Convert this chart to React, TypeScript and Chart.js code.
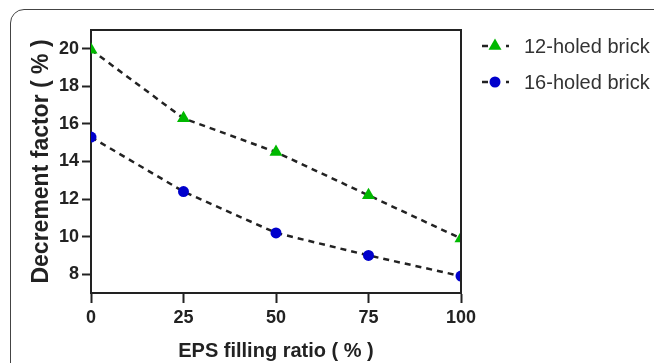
import React, { useEffect, useRef } from "react";
import { Chart, registerables } from "chart.js";

Chart.register(...registerables);

const fillingRatio = [0, 25, 50, 75, 100];
const holed12 = [19.95, 16.3, 14.5, 12.2, 9.9];
const holed16 = [15.3, 12.4, 10.2, 9.0, 7.9];
const xTicks = [0, 25, 50, 75, 100];
const yTicks = [8, 10, 12, 14, 16, 18, 20];
const seriesNames = ["12-holed brick", "16-holed brick"];

const FONT = "'Liberation Sans', Arial, sans-serif";
const AXIS = "#222";

const legendPlugin = {
  id: "customLegend",
  afterDraw(chart: any) {
    const ctx = chart.ctx;
    const area = chart.chartArea;
    ctx.save();
    // box top and right edges
    ctx.strokeStyle = AXIS;
    ctx.lineWidth = 2;
    ctx.beginPath();
    ctx.moveTo(area.left, area.top);
    ctx.lineTo(area.right, area.top);
    ctx.lineTo(area.right, area.bottom);
    ctx.stroke();

    chart.data.datasets.forEach((ds: any, i: number) => {
      const y = 46 + i * 36;
      const x0 = area.right + 21;
      ctx.strokeStyle = "#222";
      ctx.lineWidth = 2.5;
      ctx.beginPath();
      ctx.moveTo(x0, y);
      ctx.lineTo(x0 + 6, y);
      ctx.moveTo(x0 + 24, y);
      ctx.lineTo(x0 + 27, y);
      ctx.stroke();
      ctx.fillStyle = ds.pointBackgroundColor;
      const cx = x0 + 13;
      if (ds.pointStyle === "triangle") {
        const r = 7.5;
        ctx.beginPath();
        ctx.moveTo(cx, y - r);
        ctx.lineTo(cx + r * 0.866, y + r / 2);
        ctx.lineTo(cx - r * 0.866, y + r / 2);
        ctx.closePath();
        ctx.fill();
      } else {
        ctx.beginPath();
        ctx.arc(cx, y, 5.5, 0, Math.PI * 2);
        ctx.fill();
      }
      ctx.fillStyle = "#333";
      ctx.font = `20px ${FONT}`;
      ctx.textBaseline = "middle";
      ctx.textAlign = "left";
      ctx.fillText(ds.label, x0 + 42, y + 1);
    });
    ctx.restore();
  },
};

export default function App() {
  const ref = useRef<HTMLCanvasElement>(null);
  useEffect(() => {
    if (!ref.current) return;
    const chart = new Chart(ref.current, {
      type: "line",
      data: {
        labels: fillingRatio,
        datasets: [
          {
            label: seriesNames[0],
            data: fillingRatio.map((x, i) => ({ x, y: holed12[i] })),
            borderColor: "#222",
            borderWidth: 2.5,
            borderDash: [6, 5],
            pointStyle: "triangle",
            pointRadius: 7.5,
            pointBackgroundColor: "#00b800",
            pointBorderColor: "#00b800",
            pointBorderWidth: 0,
            fill: false,
            tension: 0,
          },
          {
            label: seriesNames[1],
            data: fillingRatio.map((x, i) => ({ x, y: holed16[i] })),
            borderColor: "#222",
            borderWidth: 2.5,
            borderDash: [6, 5],
            pointStyle: "circle",
            pointRadius: 5.5,
            pointBackgroundColor: "#0000cc",
            pointBorderColor: "#0000cc",
            pointBorderWidth: 0,
            fill: false,
            tension: 0,
          },
        ],
      },
      options: {
        animation: false,
        responsive: false,
        maintainAspectRatio: false,
        layout: { padding: { left: 28, top: 30, right: 193, bottom: 0 } },
        plugins: { legend: { display: false }, tooltip: { enabled: false } },
        scales: {
          x: {
            type: "linear",
            min: 0,
            max: 100,
            afterBuildTicks: (s: any) => {
              s.ticks = xTicks.map((v) => ({ value: v }));
            },
            afterFit: (s: any) => {
              s.height = 70;
            },
            grid: {
              drawOnChartArea: false,
              drawTicks: true,
              tickLength: 10,
              tickWidth: 2,
              color: AXIS,
            },
            border: { display: true, color: AXIS, width: 2 },
            ticks: {
              color: AXIS,
              font: { family: FONT, size: 18, weight: "bold" },
              padding: 4,
              maxRotation: 0,
            },
            title: {
              display: true,
              text: "EPS filling ratio ( % )",
              color: AXIS,
              font: { family: FONT, size: 20, weight: "bold" },
              padding: { top: 0, bottom: 0 },
            },
          },
          y: {
            type: "linear",
            min: 7,
            max: 21,
            afterBuildTicks: (s: any) => {
              s.ticks = yTicks.map((v) => ({ value: v }));
            },
            afterFit: (s: any) => {
              s.width = 63;
            },
            grid: {
              drawOnChartArea: false,
              drawTicks: true,
              tickLength: 9,
              tickWidth: 2,
              color: AXIS,
            },
            border: { display: true, color: AXIS, width: 2 },
            ticks: {
              color: AXIS,
              font: { family: FONT, size: 18, weight: "bold" },
              padding: 3,
            },
            title: {
              display: true,
              text: "Decrement factor ( % )",
              color: AXIS,
              font: { family: FONT, size: 23, weight: "bold" },
              padding: { top: 0, bottom: 0 },
            },
          },
        },
      },
      plugins: [legendPlugin],
    });
    return () => chart.destroy();
  }, []);

  return (
    <div
      style={{
        position: "fixed",
        left: 0,
        top: 0,
        width: 654,
        height: 363,
        overflow: "hidden",
        background: "#fff",
      }}
    >
      <canvas ref={ref} width={654} height={363} style={{ position: "absolute", left: 0, top: 0 }} />
      <div
        style={{
          position: "absolute",
          left: 10,
          top: 9,
          width: 700,
          height: 420,
          border: "1.5px solid #444",
          borderRadius: 14,
          pointerEvents: "none",
        }}
      />
    </div>
  );
}
